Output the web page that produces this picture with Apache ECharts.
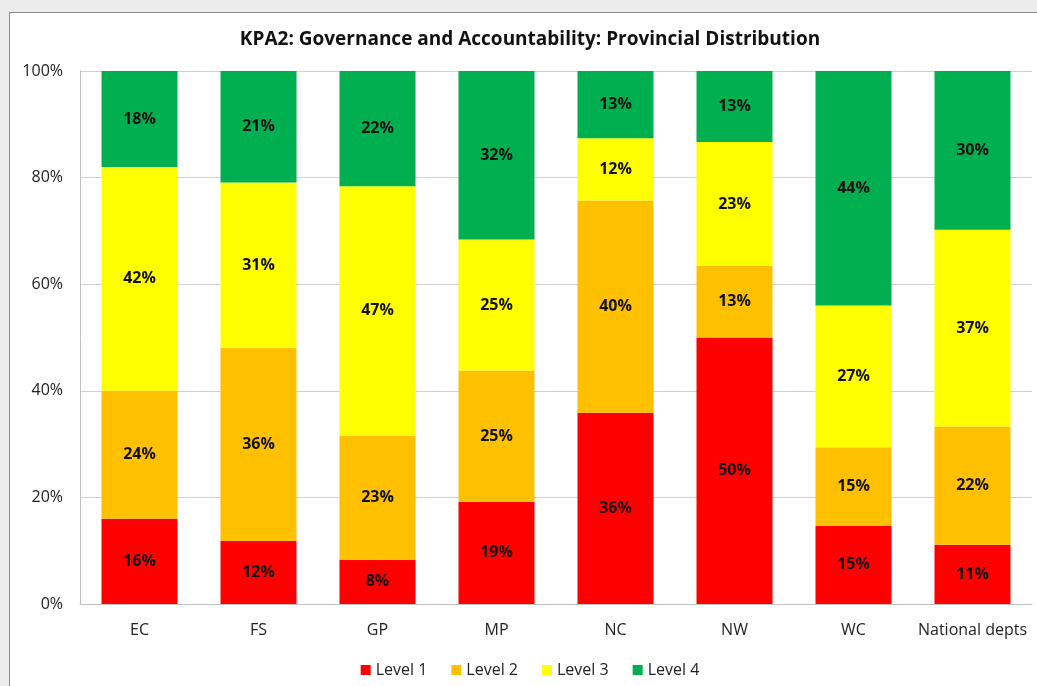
<!DOCTYPE html>
<html>
<head>
<meta charset="utf-8">
<script src="https://cdn.jsdelivr.net/npm/echarts@6/dist/echarts.min.js"></script>
<style>
  html, body { margin: 0; padding: 0; background: #ececec; width: 1037px; height: 686px; overflow: hidden; }
  #frame { position: absolute; left: 9px; top: 12px; width: 1050px; height: 700px; background: #fff; border: 1px solid #8a8a8a; box-sizing: border-box; }
  #main { position: absolute; left: 10px; top: 13px; width: 1040px; height: 690px; }
</style>
</head>
<body>
<div id="frame"></div>
<div id="main"></div>
<script>
// provinces and share of departments per level (percent)
const categories = ['EC', 'FS', 'GP', 'MP', 'NC', 'NW', 'WC', 'National depts'];
const level1 = [16.0, 11.8, 8.3, 19.2, 35.9, 50.0, 14.7, 11.1];
const level2 = [24.0, 36.3, 23.3, 24.6, 39.8, 13.4, 14.7, 22.2];
const level3 = [42.0, 31.0, 46.8, 24.6, 11.7, 23.3, 26.6, 36.9];
const level4 = [18.0, 20.9, 21.6, 31.6, 12.6, 13.3, 44.0, 29.8];
const yTicks = [0, 20, 40, 60, 80, 100];

const fontFam = 'Open Sans, Noto Sans, sans-serif';

const myChart = echarts.init(document.getElementById('main'));

function levelSeries(name, data, color) {
  return {
    name: name,
    type: 'bar',
    stack: 'total',
    barWidth: 76,
    data: data,
    itemStyle: { color: color },
    label: {
      show: true,
      position: 'inside',
      formatter: p => Math.round(p.value) + '%',
      color: '#111',
      fontWeight: 'bold',
      fontSize: 16,
      fontFamily: fontFam
    }
  };
}

const option = {
  backgroundColor: 'transparent',
  animation: false,
  title: {
    text: 'KPA2: Governance and Accountability: Provincial Distribution',
    left: 'center',
    top: 12,
    textStyle: { fontSize: 19, fontWeight: 'bold', color: '#111', fontFamily: fontFam }
  },
  legend: {
    bottom: 20,
    left: 'center',
    itemWidth: 10,
    itemHeight: 10,
    itemGap: 24,
    icon: 'rect',
    textStyle: { fontSize: 16, color: '#222', fontFamily: fontFam },
    data: ['Level 1', 'Level 2', 'Level 3', 'Level 4']
  },
  grid: { left: 70, right: 18, top: 58, bottom: 99 },
  xAxis: {
    type: 'category',
    data: categories,
    axisLine: { lineStyle: { color: '#bfbfbf' } },
    axisTick: { show: false },
    axisLabel: { interval: 0, fontSize: 16, color: '#222', margin: 18, fontFamily: fontFam }
  },
  yAxis: {
    type: 'value',
    min: yTicks[0],
    max: yTicks[yTicks.length - 1],
    interval: 20,
    axisLine: { show: true, lineStyle: { color: '#bfbfbf' } },
    axisTick: { show: false },
    splitLine: { lineStyle: { color: '#d0d0d0' } },
    axisLabel: { formatter: '{value}%', fontSize: 16, color: '#222', margin: 17, fontFamily: fontFam }
  },
  series: [
    levelSeries('Level 1', level1, '#ff0000'),
    levelSeries('Level 2', level2, '#ffc000'),
    levelSeries('Level 3', level3, '#ffff00'),
    levelSeries('Level 4', level4, '#00b050')
  ]
};

myChart.setOption(option);
</script>
</body>
</html>
